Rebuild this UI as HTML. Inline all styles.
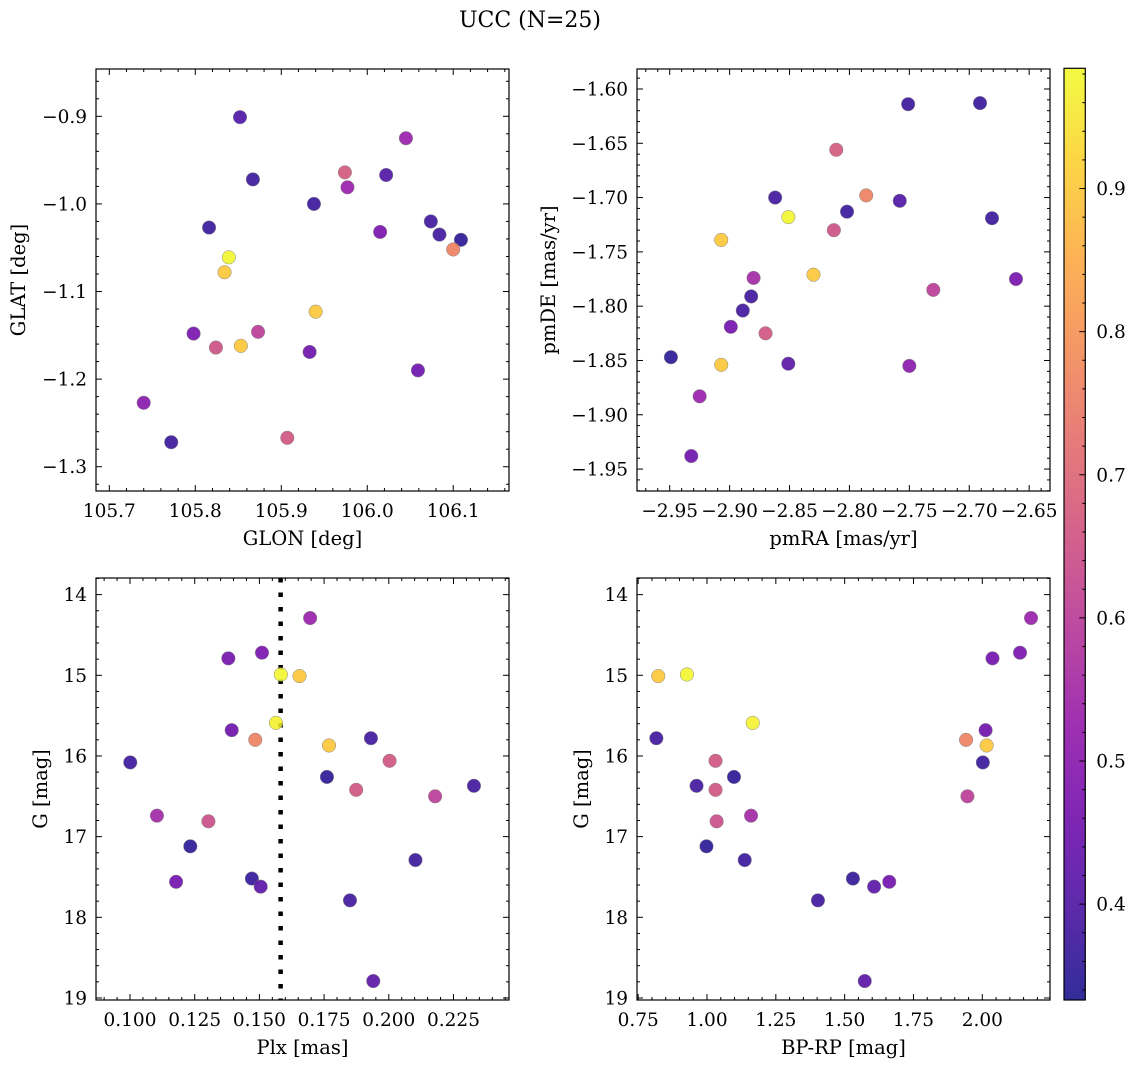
<!DOCTYPE html>
<html><head><meta charset="utf-8"><style>
html,body{margin:0;padding:0;background:#fff;}
svg{display:block;font-family:"DejaVu Serif","Liberation Serif",serif;}
</style></head><body>
<svg id="fig" width="1136" height="1068" viewBox="0 0 1136 1068" xmlns="http://www.w3.org/2000/svg">
<defs>
<linearGradient id="plasma" x1="0" y1="1" x2="0" y2="0"></linearGradient>
</defs>
<text x="530" y="27" text-anchor="middle" font-size="22">UCC (N=25)</text>
</svg>
<script>
// ---- data: panel 1 (GLON vs GLAT) ----
const glon = [105.852,106.045,105.974,106.022,105.977,105.867,105.938,105.816,106.074,106.015,106.084,106.109,106.100,105.839,105.834,105.940,105.798,105.873,105.824,105.853,105.933,106.059,105.740,105.772,105.907];
const glat = [-0.901,-0.925,-0.964,-0.967,-0.981,-0.972,-1.000,-1.027,-1.020,-1.032,-1.035,-1.041,-1.052,-1.061,-1.078,-1.123,-1.148,-1.146,-1.164,-1.162,-1.169,-1.190,-1.227,-1.272,-1.267];
const probA = [0.40,0.53,0.67,0.40,0.53,0.37,0.37,0.37,0.38,0.47,0.38,0.35,0.76,0.98,0.90,0.90,0.47,0.60,0.65,0.90,0.45,0.45,0.50,0.37,0.66];
// ---- data: panel 2 (pmRA vs pmDE) ----
const pmra = [-2.751,-2.691,-2.811,-2.786,-2.862,-2.758,-2.802,-2.851,-2.681,-2.813,-2.907,-2.830,-2.880,-2.661,-2.730,-2.882,-2.889,-2.899,-2.870,-2.949,-2.851,-2.907,-2.750,-2.925,-2.932];
const pmde = [-1.614,-1.613,-1.656,-1.698,-1.700,-1.703,-1.713,-1.718,-1.719,-1.730,-1.739,-1.771,-1.774,-1.775,-1.785,-1.791,-1.804,-1.819,-1.825,-1.847,-1.853,-1.854,-1.855,-1.883,-1.938];
const probB = [0.37,0.37,0.67,0.76,0.38,0.40,0.37,0.98,0.37,0.65,0.90,0.90,0.55,0.47,0.60,0.38,0.38,0.46,0.66,0.35,0.42,0.90,0.50,0.53,0.45];
// ---- data: panels 3 & 4 (Plx, BP-RP vs G) ----
const plx = [0.1696,0.1380,0.1510,0.1583,0.1655,0.1564,0.1393,0.1484,0.1931,0.1769,0.1001,0.2003,0.1761,0.1874,0.2179,0.2329,0.1104,0.1303,0.1233,0.2103,0.1178,0.1471,0.1505,0.1850,0.1940];
const gmag = [14.29,14.79,14.72,14.99,15.01,15.59,15.68,15.80,15.78,15.87,16.08,16.06,16.26,16.42,16.50,16.37,16.74,16.81,17.12,17.29,17.56,17.52,17.62,17.79,18.79];
const bprp = [2.177,2.037,2.137,0.927,0.823,1.166,2.012,1.941,0.816,2.016,2.002,1.031,1.098,1.031,1.946,0.962,1.160,1.035,0.998,1.137,1.662,1.530,1.607,1.403,1.573];
const probC = [0.53,0.46,0.47,0.98,0.90,0.97,0.45,0.76,0.38,0.90,0.37,0.66,0.35,0.66,0.60,0.38,0.55,0.64,0.35,0.37,0.46,0.36,0.42,0.38,0.42];
const plxLine = [0.1582];
// ---- tick labels ----
const ticksGlon = [105.7,105.8,105.9,106.0,106.1];
const ticksGlat = [-0.9,-1.0,-1.1,-1.2,-1.3];
const ticksPmra = [-2.95,-2.90,-2.85,-2.80,-2.75,-2.70,-2.65];
const ticksPmde = [-1.60,-1.65,-1.70,-1.75,-1.80,-1.85,-1.90,-1.95];
const ticksPlx = [0.100,0.125,0.150,0.175,0.200,0.225];
const ticksG = [14,15,16,17,18,19];
const ticksBp = [0.75,1.00,1.25,1.50,1.75,2.00];
const ticksCb = [0.4,0.5,0.6,0.7,0.8,0.9];

const NS = "http://www.w3.org/2000/svg";
const svg = document.getElementById('fig');
const VMIN = 0.333, VMAX = 0.984;
const TICKFS = 18.5, LABFS = 19.5;
const plasmaStops = ["#0d0887","#41049d","#6a00a8","#8f0da4","#b12a90","#cc4778","#e16462","#f2844b","#fca636","#fcce25","#f0f921"];
function hex(h){return [parseInt(h.slice(1,3),16),parseInt(h.slice(3,5),16),parseInt(h.slice(5,7),16)];}
function cmap(t){
  t=Math.max(0,Math.min(1,t))*10; const i=Math.min(9,Math.floor(t)), f=t-i;
  const a=hex(plasmaStops[i]), b=hex(plasmaStops[i+1]);
  return `rgb(${a.map((v,k)=>Math.round(v+(b[k]-v)*f)).join(',')})`;
}
function colorOf(p){return cmap((p-VMIN)/(VMAX-VMIN));}
function mk(tag,attrs,parent){const e=document.createElementNS(NS,tag);for(const k in attrs)e.setAttribute(k,attrs[k]);(parent||svg).appendChild(e);return e;}
function fmt(v,d){return (v<0?'\u2212':'')+Math.abs(v).toFixed(d);}

function panel(cfg){
  const g=mk('g',{});
  
  
  const {x0,y0,w,h,xmin,xmax,ymin,ymax}=cfg;
  const sx=v=>x0+(v-xmin)/(xmax-xmin)*w;
  const sy=v=>cfg.invert? y0+(v-ymin)/(ymax-ymin)*h : y0+h-(v-ymin)/(ymax-ymin)*h;
  const tg=mk('g',{stroke:'#000','stroke-width':1},g);
  
  
  const lo=Math.min(xmin,xmax), hi=Math.max(xmin,xmax);
  for(let v=Math.ceil(lo/cfg.xminor-1e-9)*cfg.xminor; v<=hi+1e-9; v+=cfg.xminor){
    const major=cfg.xt.some(t=>Math.abs(t-v)<cfg.xminor/10); const L=major?6:3; const x=sx(v);
    mk('line',{x1:x,x2:x,y1:y0+h,y2:y0+h-L},tg); mk('line',{x1:x,x2:x,y1:y0,y2:y0+L},tg);
  }
  const ylo=Math.min(ymin,ymax), yhi=Math.max(ymin,ymax);
  for(let v=Math.ceil(ylo/cfg.yminor-1e-9)*cfg.yminor; v<=yhi+1e-9; v+=cfg.yminor){
    const major=cfg.yt.some(t=>Math.abs(t-v)<cfg.yminor/10); const L=major?6:3; const y=sy(v);
    mk('line',{x1:x0,x2:x0+L,y1:y,y2:y},tg); mk('line',{x1:x0+w,x2:x0+w-L,y1:y,y2:y},tg);
  }
  cfg.xt.forEach(t=>{
    const e=mk('text',{x:sx(t),y:y0+h+26,'text-anchor':'middle','font-size':TICKFS},g);
    
    
    e.textContent=fmt(t,cfg.xd);
  });
  cfg.yt.forEach(t=>{
    const e=mk('text',{x:x0-9,y:sy(t)+6.5,'text-anchor':'end','font-size':TICKFS},g);
    
    
    e.textContent=fmt(t,cfg.yd);
  });
  if(cfg.vline){
    cfg.vline.forEach(v=>{
      const l=mk('line',{x1:sx(v),x2:sx(v),y1:y0,y2:y0+h,stroke:'#000','stroke-width':4.5,'stroke-dasharray':'4.5 10'},g);
      
      
    });
  }
  const pg=mk('g',{},g);
  
  
  const idx=cfg.xs.map((_,i)=>i).sort((a,b)=>cfg.c[a]-cfg.c[b]);
  idx.forEach(i=>{
    const c=mk('circle',{cx:sx(cfg.xs[i]),cy:sy(cfg.ys[i]),r:6.8,fill:colorOf(cfg.c[i]),'fill-opacity':0.85,stroke:'#888','stroke-width':0.5},pg);
    
    
  });
  const fr=mk('rect',{x:x0,y:y0,width:w,height:h,fill:'none',stroke:'#000','stroke-width':1.2},g);
  
  
  const xl=mk('text',{x:x0+w/2,y:y0+h+54,'text-anchor':'middle','font-size':LABFS},g);
  
  
  xl.textContent=cfg.xlabel;
  const yx=cfg.ylabx, yy=y0+h/2;
  const yl=mk('text',{x:yx,y:yy,'text-anchor':'middle','font-size':LABFS,transform:`rotate(-90 ${yx} ${yy})`},g);
  
  
  yl.textContent=cfg.ylabel;
}

panel({name:'glon-glat-panel',x0:96,y0:69,w:413,h:422,xmin:105.6845,xmax:106.1649,ymin:-1.3277,ymax:-0.846,
  xs:glon,ys:glat,c:probA,xt:ticksGlon,yt:ticksGlat,xminor:0.02,yminor:0.02,xd:1,yd:1,xlabel:'GLON [deg]',ylabel:'GLAT [deg]',ylabx:25});
panel({name:'pm-panel',x0:637,y0:69,w:413,h:422,xmin:-2.9773,xmax:-2.6326,ymin:-1.9702,ymax:-1.5816,
  xs:pmra,ys:pmde,c:probB,xt:ticksPmra,yt:ticksPmde,xminor:0.01,yminor:0.01,xd:2,yd:2,xlabel:'pmRA [mas/yr]',ylabel:'pmDE [mas/yr]',ylabx:555});
panel({name:'plx-g-panel',x0:96,y0:578,w:413,h:422,xmin:0.08686,xmax:0.24645,ymin:13.794,ymax:19.025,invert:true,
  xs:plx,ys:gmag,c:probC,xt:ticksPlx,yt:ticksG,xminor:0.005,yminor:0.2,xd:3,yd:0,xlabel:'Plx [mas]',ylabel:'G [mag]',ylabx:47,vline:plxLine});
panel({name:'cmd-panel',x0:637,y0:578,w:413,h:422,xmin:0.7457,xmax:2.2459,ymin:13.794,ymax:19.025,invert:true,
  xs:bprp,ys:gmag,c:probC,xt:ticksBp,yt:ticksG,xminor:0.05,yminor:0.2,xd:2,yd:0,xlabel:'BP-RP [mag]',ylabel:'G [mag]',ylabx:588});

// colorbar
const grad=document.getElementById('plasma');
for(let k=0;k<=20;k++){const t=k/20;mk('stop',{offset:t,'stop-color':cmap(t)},grad);}
const cb=mk('g',{});


const cbx=1064, cby=68.3, cbw=21.3, cbh=931.7;
const r=mk('rect',{x:cbx,y:cby,width:cbw,height:cbh,fill:'url(#plasma)','fill-opacity':0.85,stroke:'#000','stroke-width':1.2},cb);


const cy=v=>cby+cbh-(v-VMIN)/(VMAX-VMIN)*cbh;
for(let v=0.34; v<=VMAX; v+=0.02){
  const major=ticksCb.some(t=>Math.abs(t-v)<0.002); const L=major?6:3;
  mk('line',{x1:cbx+cbw,x2:cbx+cbw-L,y1:cy(v),y2:cy(v),stroke:'#000','stroke-width':1},cb);
}
ticksCb.forEach(t=>{
  const e=mk('text',{x:cbx+cbw+11,y:cy(t)+6.5,'font-size':TICKFS},cb);
  
  
  e.textContent=t.toFixed(1);
});
</script>
</body></html>
